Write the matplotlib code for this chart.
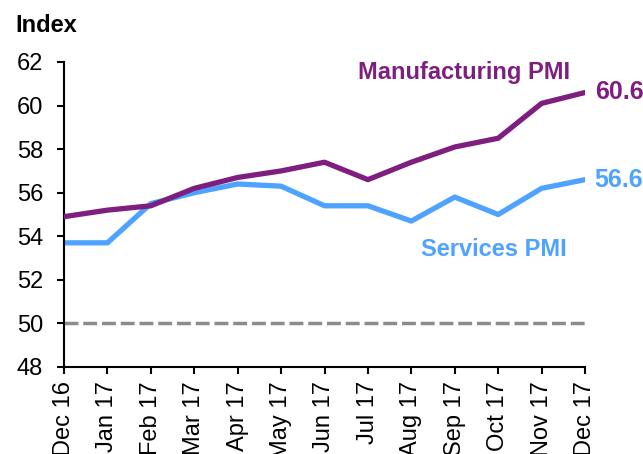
import matplotlib.pyplot as plt

plt.rcParams['font.family'] = ['Liberation Sans', 'DejaVu Sans']

months = ['Dec 16', 'Jan 17', 'Feb 17', 'Mar 17', 'Apr 17', 'May 17', 'Jun 17',
          'Jul 17', 'Aug 17', 'Sep 17', 'Oct 17', 'Nov 17', 'Dec 17']
manufacturing = [54.9, 55.2, 55.4, 56.2, 56.7, 57.0, 57.4, 56.6, 57.4, 58.1, 58.5, 60.1, 60.6]
services = [53.7, 53.7, 55.5, 56.0, 56.4, 56.3, 55.4, 55.4, 54.7, 55.8, 55.0, 56.2, 56.6]
threshold = 50

purple = '#7E1F80'
blue = '#4DA3FF'

fig = plt.figure(figsize=(6.43, 4.54), dpi=100)
ax = fig.add_axes([64 / 643, 1 - 367 / 454, (585 - 64) / 643, (367 - 62) / 454])

x = range(len(months))
ax.axhline(threshold, color='#8C8C8C', lw=2.5, dashes=(4, 1.4), zorder=1)
ax.plot(x, manufacturing, color=purple, lw=3.8, solid_capstyle='round', zorder=3)
ax.plot(x, services, color=blue, lw=3.8, solid_capstyle='round', zorder=2)

ax.set_xlim(0, len(months) - 1)
ax.set_ylim(48, 62)
ax.set_yticks(range(48, 63, 2))
ax.set_xticks(list(x))
ax.set_xticklabels(months, rotation=90, va='top')

for side in ['top', 'right']:
    ax.spines[side].set_visible(False)
for side in ['left', 'bottom']:
    ax.spines[side].set_linewidth(1.5)
    ax.spines[side].set_color('black')
ax.tick_params(axis='both', direction='out', length=5, width=1.5,
               labelsize=17, colors='black', pad=5)
ax.tick_params(axis='y', pad=10)

# series labels and end values
ax.text(570 / 643, 1 - 72 / 454, 'Manufacturing PMI', transform=fig.transFigure,
        color=purple, fontsize=17, fontweight='bold', ha='right', va='center')
ax.text(567 / 643, 1 - 250 / 454, 'Services PMI', transform=fig.transFigure,
        color=blue, fontsize=17, fontweight='bold', ha='right', va='center')
ax.annotate(f'{manufacturing[-1]:.1f}', (x[-1], manufacturing[-1]), xytext=(7, 0),
            textcoords='offset points', color=purple, fontsize=18,
            fontweight='bold', va='center', annotation_clip=False)
ax.annotate(f'{services[-1]:.1f}', (x[-1], services[-1]), xytext=(7, 0),
            textcoords='offset points', color=blue, fontsize=18,
            fontweight='bold', va='center', annotation_clip=False)

fig.text(15 / 643, 1 - 26 / 454, 'Index', fontsize=17, fontweight='bold',
         ha='left', va='center')

fig.savefig('out.png', dpi=100)
